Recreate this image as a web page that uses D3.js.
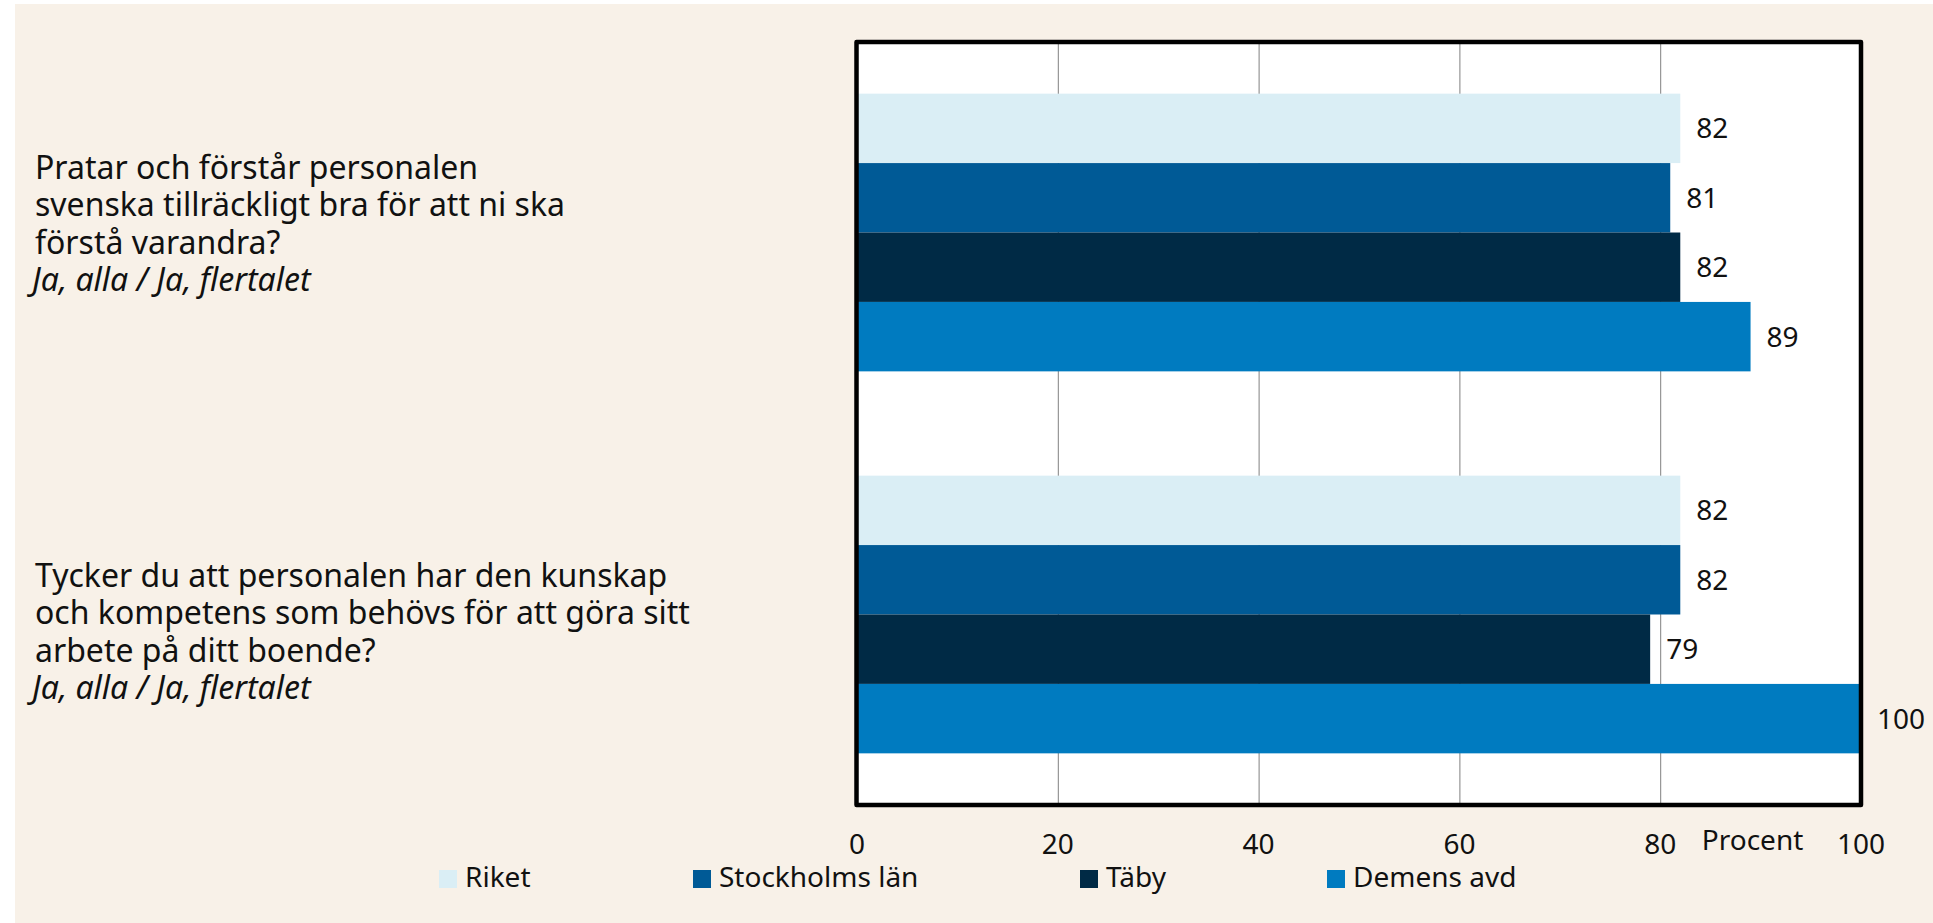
<!DOCTYPE html>
<html lang="sv">
<head>
<meta charset="UTF-8">
<title>Personal och språk</title>
<script src="https://d3js.org/d3.v7.min.js"></script>
<style>
    body { margin: 0; background: #fff; }
    svg { display: block; font-family: "Noto Sans", sans-serif; }
</style>
</head>
<body>
<script>
// data
const questions = ["q1", "q2"];
const questionLines = [
    ["Pratar och förstår personalen", "svenska tillräckligt bra för att ni ska", "förstå varandra?"],
    ["Tycker du att personalen har den kunskap", "och kompetens som behövs för att göra sitt", "arbete på ditt boende?"]
];
const answerNote = ["Ja, alla / Ja, flertalet", "Ja, alla / Ja, flertalet"];
const seriesNames = ["Riket", "Stockholms län", "Täby", "Demens avd"];
const riket = [82, 82];
const stockholm = [81, 82];
const taby = [82, 79];
const demens = [89, 100];
const xTicks = [0, 20, 40, 60, 80, 100];
const colors = ["#daeef5", "#005a96", "#002a45", "#007bc0"];

const W = 1933, H = 923;
const values = [riket, stockholm, taby, demens];

const svg = d3.select("body").append("svg")
    .attr("width", W)
    .attr("height", H);

// beige page background
svg.append("rect")
    .attr("x", 15).attr("y", 4)
    .attr("width", W - 15).attr("height", H - 4)
    .attr("fill", "#f8f1e8");

const x = d3.scaleLinear().domain([0, 100]).range([857, 1861]);
const y = d3.scaleBand().domain(questions).range([44, 803])
    .paddingInner(0.273).paddingOuter(0.13);
const ySub = d3.scaleBand().domain(seriesNames).range([0, y.bandwidth()]);

// white plot area
svg.append("rect")
    .attr("x", x(0)).attr("y", 42)
    .attr("width", x(100) - x(0)).attr("height", 763)
    .attr("fill", "#fff");

// grid
svg.append("g").selectAll("line")
    .data(xTicks.slice(1, -1))
    .join("line")
    .attr("x1", d => x(d) + 0.5).attr("x2", d => x(d) + 0.5)
    .attr("y1", 44).attr("y2", 803)
    .attr("stroke", "#808080")
    .attr("stroke-width", 1);

// bars
const rows = [];
questions.forEach((q, qi) => {
    seriesNames.forEach((s, si) => {
        rows.push({ q: q, s: s, si: si, v: values[si][qi] });
    });
});

const bars = svg.append("g");
bars.selectAll("rect")
    .data(rows)
    .join("rect")
    .attr("x", x(0))
    .attr("y", d => y(d.q) + ySub(d.s))
    .attr("width", d => x(d.v) - x(0))
    .attr("height", ySub.bandwidth())
    .attr("fill", d => colors[d.si]);

bars.selectAll("text")
    .data(rows)
    .join("text")
    .attr("x", d => x(d.v) + 16)
    .attr("y", d => y(d.q) + ySub(d.s) + ySub.bandwidth() / 2)
    .attr("dy", "0.36em")
    .attr("font-size", 28)
    .attr("fill", "#111")
    .text(d => d.v);

// frame
svg.append("rect")
    .attr("x", 856.5).attr("y", 42)
    .attr("width", 1004.5).attr("height", 763)
    .attr("fill", "none")
    .attr("stroke", "#000")
    .attr("stroke-width", 4.5)
    .attr("stroke-linejoin", "round");

// x tick labels
svg.append("g").selectAll("text")
    .data(xTicks)
    .join("text")
    .attr("x", d => x(d))
    .attr("y", 854)
    .attr("text-anchor", "middle")
    .attr("font-size", 28)
    .attr("fill", "#111")
    .text(d => d);

svg.append("text")
    .attr("x", x(89.2))
    .attr("y", 850)
    .attr("text-anchor", "middle")
    .attr("font-size", 28)
    .attr("fill", "#111")
    .text("Procent");

// question labels
const labelShift = [-53.5, -27.5];
const lineH = 37.3;
questions.forEach((q, qi) => {
    const top = y(q) + y.bandwidth() / 2 + labelShift[qi];
    const t = svg.append("text")
        .attr("x", 35)
        .attr("font-size", 32)
        .attr("fill", "#111");
    questionLines[qi].forEach((line, li) => {
        t.append("tspan").attr("x", 35).attr("y", top + li * lineH).text(line);
    });
    t.append("tspan")
        .attr("x", 32)
        .attr("y", top + questionLines[qi].length * lineH)
        .attr("font-style", "italic")
        .text(answerNote[qi]);
});

// legend
const legendX = [439, 693, 1080, 1327];
const legend = svg.append("g").selectAll("g")
    .data(seriesNames)
    .join("g")
    .attr("transform", (d, i) => `translate(${legendX[i]},870)`);
legend.append("rect")
    .attr("width", 18).attr("height", 18)
    .attr("fill", (d, i) => colors[i]);
legend.append("text")
    .attr("x", 26).attr("y", 17)
    .attr("font-size", 28)
    .attr("fill", "#111")
    .text(d => d);
</script>
</body>
</html>
